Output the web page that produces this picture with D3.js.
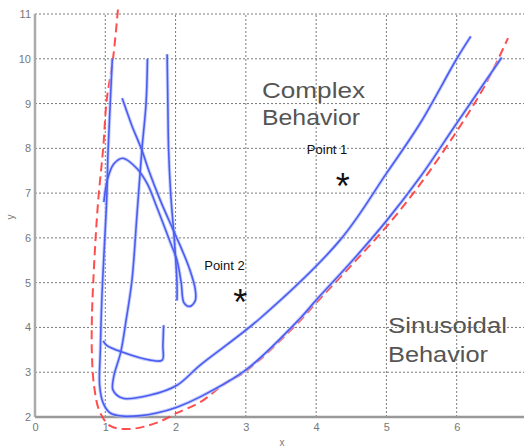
<!DOCTYPE html>
<html lang="en">
<head>
  <meta charset="UTF-8">
  <title>Trajectories</title>
  <script src="https://d3js.org/d3.v7.min.js"></script>
  <style>
    html, body { margin: 0; padding: 0; background: #fff; }
    text { font-family: "Liberation Sans", Arial, sans-serif; }
    .grid { stroke: #444; stroke-width: 1; stroke-dasharray: 2,2; opacity: 0.7; }
    .tick-label { font-size: 11px; fill: #777; }
  </style>
</head>
<body>
  <script>
    // tick values
    const xTicks = [0, 1, 2, 3, 4, 5, 6]
    const yTicks = [2, 3, 4, 5, 6, 7, 8, 9, 10, 11]

    // red dashed reference curve
    const redCurve = [[1.18,11.1],[1.11,10],[1.02,9.07],[0.97,8],[0.9,6.85],[0.85,5.66],[0.81,4.23],[0.81,3.4],
      [0.84,2.7],[0.92,2.12],[1.07,1.8],[1.3,1.73],[1.54,1.78],[1.78,1.9],[2.02,2.09],[2.35,2.33],[2.73,2.78],
      [3,3.02],[3.77,4.15],[4,4.55],[4.52,5.42],[5,6.25],[5.48,7.2],[6,8.38],[6.4,9.4],[6.73,10.46]]

    // blue trajectories
    const lowerPath = [[1.1,10],[1.07,9],[1.04,7.96],[1.02,6.85],[0.98,5.6],[0.95,4.6],[0.93,3.5],[0.92,2.7],
      [0.97,2.31],[1.07,2.09],[1.25,2.02],[1.5,2.03],[1.73,2.09],[2.02,2.22],[2.35,2.45],[3,3.05],[3.77,4.2],
      [4,4.61],[4.52,5.5],[5,6.38],[5.48,7.36],[6,8.56],[6.64,10.03]]

    const upperPath = [[1.6,10],[1.58,9],[1.52,7.96],[1.45,6.5],[1.38,5.06],[1.3,4.2],[1.22,3.45],[1.12,2.9],
      [1.11,2.6],[1.25,2.42],[1.64,2.49],[2.02,2.71],[2.35,3.16],[3.2,4.2],[4.34,5.95],[5,7.44],[5.48,8.56],
      [6,10],[6.2,10.5]]

    const loopPath = [[1.24,9.12],[1.3,8.85],[1.38,8.5],[1.52,7.96],[1.62,7.5],[1.78,6.85],[1.96,6.2],[2.1,5.7],
      [2.2,5.3],[2.28,4.85],[2.28,4.6],[2.2,4.47],[2.12,4.55],[2.08,5],[2.02,5.5],[1.93,5.88],[1.73,6.7],
      [1.6,7.2],[1.45,7.55],[1.25,7.78],[1.12,7.65],[1.03,7.3],[0.98,6.8]]

    const rightPath = [[1.88,10.1],[1.89,9],[1.9,8],[1.93,7],[1.98,6],[2.02,5],[2.02,4.6]]

    const bracketPath = [[1.83,4.05],[1.82,3.6],[1.81,3.27],[1.64,3.27],[1.24,3.45],[1.02,3.6],[0.97,3.7]]

    const bluePaths = [lowerPath, upperPath, loopPath, rightPath, bracketPath]

    // annotation points
    const markers = [{label: 'Point 1', x: 4.38, y: 7.22}, {label: 'Point 2', x: 2.92, y: 4.63}]

    const width = 524
    const height = 448

    const svg = d3.select('body').append('svg')
                  .attr('width', width).attr('height', height)

    const xScale = d3.scaleLinear().domain([0, 7]).range([35, 527])
    const yScale = d3.scaleLinear().domain([2, 11]).range([417, 14])

    // grid
    svg.append('g').selectAll('line').data(yTicks.slice(1)).enter().append('line')
      .attr('class', 'grid')
      .attr('x1', xScale(0)).attr('x2', width)
      .attr('y1', d => yScale(d)).attr('y2', d => yScale(d))
    svg.append('g').selectAll('line').data(xTicks.slice(1)).enter().append('line')
      .attr('class', 'grid')
      .attr('x1', d => xScale(d)).attr('x2', d => xScale(d))
      .attr('y1', yScale(2)).attr('y2', yScale(11))

    // axes
    const xAxis = d3.axisBottom(xScale).tickValues(xTicks).tickFormat(d3.format('d')).tickSize(0).tickPadding(6)
    const yAxis = d3.axisLeft(yScale).tickValues(yTicks).tickFormat(d3.format('d')).tickSize(0).tickPadding(4)

    const gx = svg.append('g').attr('transform', `translate(0,${yScale(2)})`).call(xAxis)
    const gy = svg.append('g').attr('transform', `translate(${xScale(0)},0)`).call(yAxis)
    gx.select('.domain').remove()
    gy.select('.domain').remove()
    svg.selectAll('.tick text').attr('class', 'tick-label').attr('font-family', null).attr('font-size', null)

    svg.append('line').attr('x1', xScale(0)).attr('x2', width).attr('y1', yScale(2)).attr('y2', yScale(2))
      .attr('stroke', '#999').attr('stroke-width', 2.5)
    svg.append('line').attr('x1', xScale(0)).attr('x2', xScale(0)).attr('y1', yScale(2)).attr('y2', yScale(11))
      .attr('stroke', '#aaa').attr('stroke-width', 2.5)

    svg.append('text').attr('x', 282).attr('y', 446).attr('text-anchor', 'middle')
      .attr('font-size', 10).attr('fill', '#777').text('x')
    svg.append('text').attr('transform', 'translate(14,217) rotate(-90)').attr('text-anchor', 'middle')
      .attr('font-size', 10).attr('fill', '#777').text('y')

    const line = d3.line().x(d => xScale(d[0])).y(d => yScale(d[1])).curve(d3.curveCatmullRom)

    // red dashed
    svg.append('path').datum(redCurve).attr('d', line)
      .attr('fill', 'none').attr('stroke', '#ff3b3b').attr('stroke-width', 2)
      .attr('stroke-dasharray', '9,5').attr('opacity', 0.9)

    // blue lines with light halo
    svg.append('g').selectAll('path').data(bluePaths).enter().append('path')
      .attr('d', line).attr('fill', 'none').attr('stroke', '#aebcff')
      .attr('stroke-width', 3.5).attr('opacity', 0.7)
    svg.append('g').selectAll('path').data(bluePaths).enter().append('path')
      .attr('d', line).attr('fill', 'none').attr('stroke', '#4c5cf0')
      .attr('stroke-width', 1.6)

    // markers
    svg.append('g').selectAll('text').data(markers).enter().append('text')
      .attr('x', d => xScale(d.x)).attr('y', d => yScale(d.y) + 16)
      .attr('text-anchor', 'middle').attr('font-size', 36).attr('fill', '#111')
      .text('*')
    svg.append('g').selectAll('text').data(markers).enter().append('text')
      .attr('x', d => xScale(d.x) - 36).attr('y', d => yScale(d.y) - 29)
      .attr('font-size', 13).attr('fill', '#111')
      .text(d => d.label)

    // region labels
    const labels = [
      {t: 'Complex', x: 262, y: 98, w: 103},
      {t: 'Behavior', x: 262, y: 125, w: 98},
      {t: 'Sinusoidal', x: 388, y: 333, w: 119},
      {t: 'Behavior', x: 388, y: 362, w: 100}
    ]
    svg.append('g').selectAll('text').data(labels).enter().append('text')
      .attr('x', d => d.x).attr('y', d => d.y)
      .attr('font-size', 22).attr('fill', '#555')
      .attr('textLength', d => d.w).attr('lengthAdjust', 'spacingAndGlyphs')
      .text(d => d.t)
  </script>
</body>
</html>
